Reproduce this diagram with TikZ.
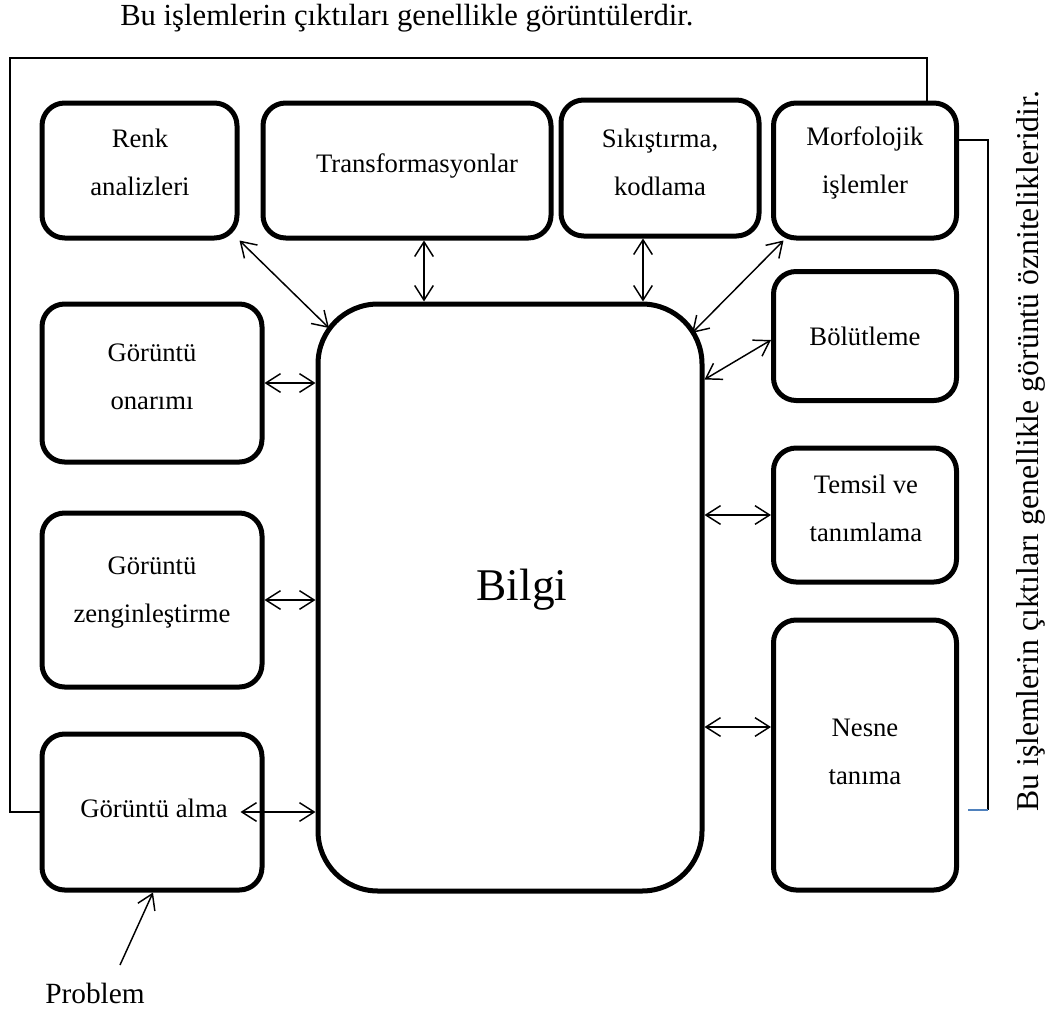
\documentclass[tikz,border=0pt]{standalone}
\usepackage{fontspec}
\setmainfont{Liberation Serif}
\usetikzlibrary{arrows.meta,calc}
\definecolor{wordblue}{RGB}{79,129,189}
\begin{document}
\begin{tikzpicture}[x=0.75pt,y=-0.75pt,
  box/.style={draw, line width=3.75pt, rounded corners=17pt, inner sep=0pt},
  sz/.style 2 args={minimum width=#1*0.75pt, minimum height=#2*0.75pt},
  lbl/.style={align=center, font=\fontsize{20}{36}\selectfont, inner sep=0pt},
  link/.style={line width=1.1pt, {Straight Barb[length=11pt,width=14pt]}-{Straight Barb[length=11pt,width=14pt]}},
  oneway/.style={line width=1.1pt, -{Straight Barb[length=11pt,width=14pt]}},
  frame/.style={line width=1.5pt},
  note/.style={font=\fontsize{23}{28}\selectfont, inner sep=0pt},
]
\useasboundingbox (0,0) rectangle (1056,1010);

% process boxes
\node[box, sz={195}{135}] (renk)   at (139.5,170.5) {};
\node[box, sz={288}{135}] (trans)  at (407,170.5) {};
\node[box, sz={198}{136}] (sikis)  at (660,168) {};
\node[box, sz={183}{135}] (morf)   at (865,170.5) {};
\node[box, sz={183}{129}] (bolut)  at (865,336) {};
\node[box, sz={183}{134}] (temsil) at (865,515) {};
\node[box, sz={183}{270}] (nesne)  at (865,755) {};
\node[box, sz={220}{158}] (onarim) at (152,383) {};
\node[box, sz={220}{174}] (zengin) at (152,600) {};
\node[box, sz={220}{156}] (alma)   at (152,812) {};
\node[box, rounded corners=45pt, sz={384}{587}] (bilgi) at (510,597.5) {};

% box labels
\node[lbl] (renkT)   at (140,162) {Renk\\analizleri};
\node[lbl] (transT)  at (417,166) {Transformasyonlar};
\node[lbl] (sikisT)  at (660,162) {Sıkıştırma,\\kodlama};
\node[lbl] (morfT)   at (865,163) {Morfolojik\\işlemler};
\node[lbl] (bolutT)  at (865,336) {Bölütleme};
\node[lbl] (temsilT) at (866,508) {Temsil ve\\tanımlama};
\node[lbl] (nesneT)  at (865,752) {Nesne\\tanıma};
\node[lbl] (onarimT) at (152,377) {Görüntü\\onarımı};
\node[lbl] (zenginT) at (152,593) {Görüntü\\zenginleştirme};
\node[lbl] (almaT)   at (154,808) {Görüntü alma};
\node[lbl, font=\fontsize{34}{40}\selectfont] (bilgiT) at (522,590) {Bilgi};

% two-way links to the central box
\draw[link] (renk.south east) -- ($(bilgi.north west)+(13.5,26.5)$);
\draw[link] (trans.south -| 424,0) -- (bilgi.north -| 424,0);
\draw[link] (sikis.south -| 643,0) -- (bilgi.north -| 643,0);
\draw[link] ($(morf.south west)+(12.5,0)$) -- ($(bilgi.north east)+(-12.5,31.5)$);
\draw[link] ($(bolut.west)+(0,4)$) -- ($(bilgi.north east)+(0,78)$);
\draw[link] (onarim.east) -- (onarim.east -| bilgi.west);
\draw[link] (zengin.east) -- (zengin.east -| bilgi.west);
\draw[link] ($(alma.east)+(-24,0)$) -- (alma.east -| bilgi.west);
\draw[link] (temsil.west) -- (temsil.west -| bilgi.east);
\draw[link] ($(nesne.west)+(0,-28)$) -- ($(nesne.west -| bilgi.east)+(0,-28)$);

% input
\node[note, font=\fontsize{22}{26}\selectfont] (prob) at (95,993) {Problem};
\coordinate (pstart) at (120,965);
\draw[oneway] (pstart) -- (alma.south -| 153,0);

% outer feedback frame
\draw[frame] (alma.west) -| (10,58) -| (morf.north -| 927,0);
\coordinate (rb) at (988,810);
\coordinate (bl) at (968,810);
\draw[frame] ($(morf.east)+(0,-31)$) -| (rb);
\draw[frame, wordblue] (bl) -- (rb);

% notes
\node[note, anchor=base west] (topnote) at (120,25)
  {Bu işlemlerin çıktıları genellikle görüntülerdir.};
\node[note, font=\fontsize{23.8}{28}\selectfont, rotate=90, anchor=base west] (sidenote) at (1038,812)
  {Bu işlemlerin çıktıları genellikle görüntü öznitelikleridir.};
\end{tikzpicture}
\end{document}
